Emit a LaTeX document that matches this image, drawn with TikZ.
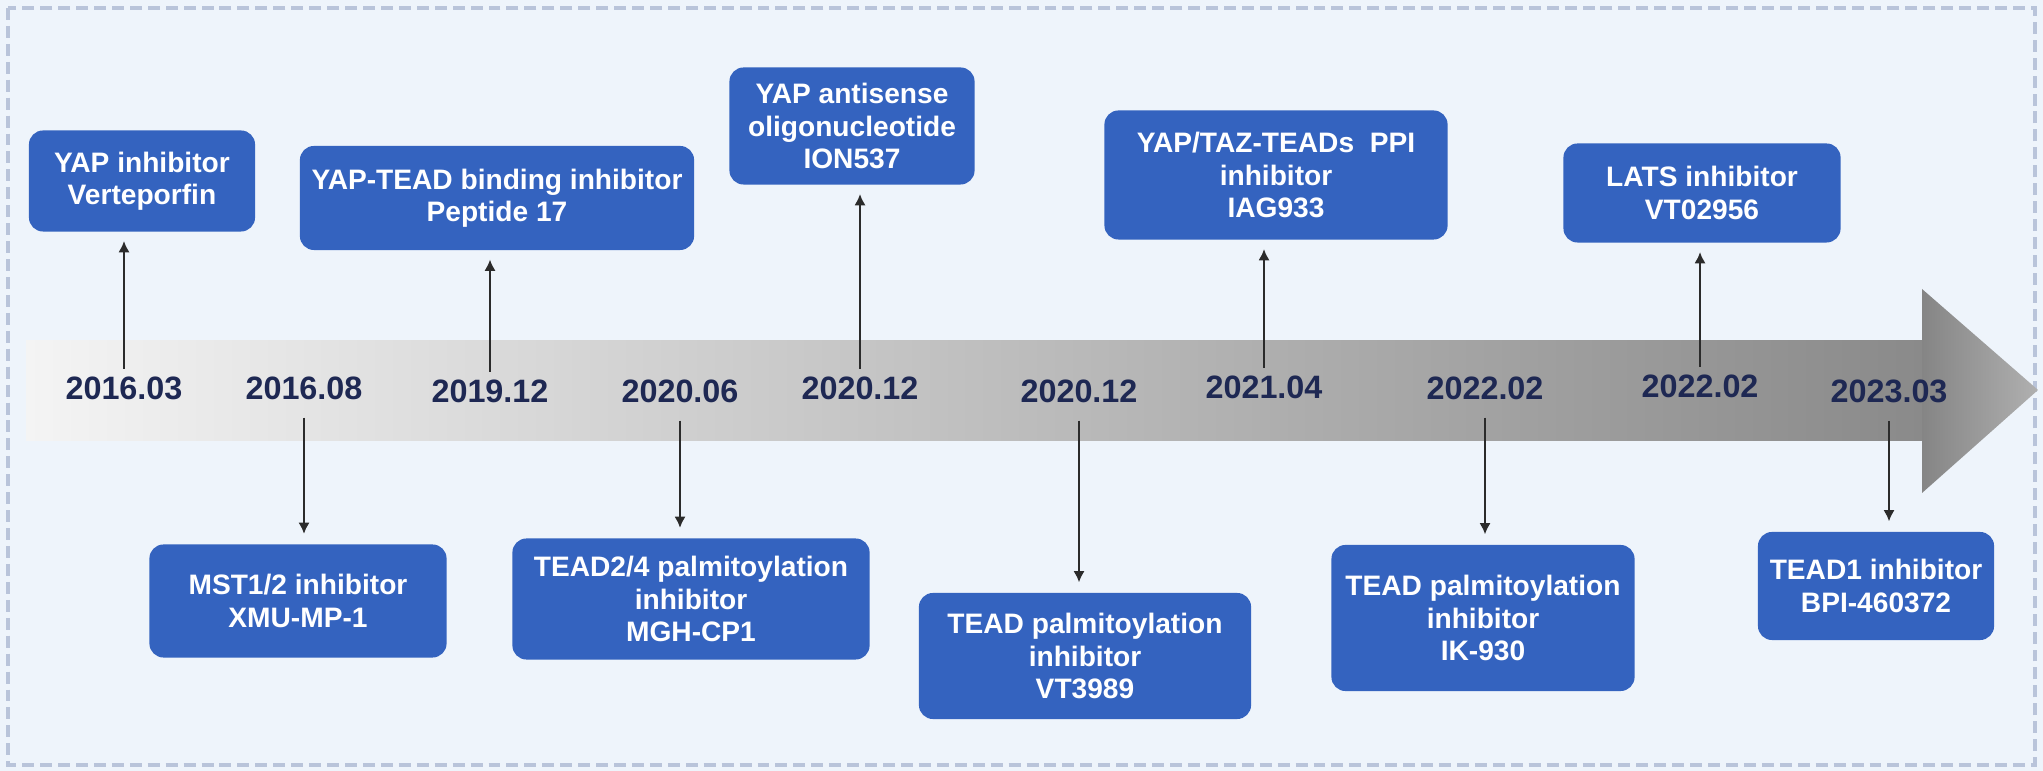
\documentclass[tikz,border=0pt]{standalone}
\usepackage{fontspec}
\setmainfont{Liberation Sans}
\usetikzlibrary{arrows.meta,positioning}
\definecolor{bgblue}{HTML}{EEF4FB}
\definecolor{frameblue}{HTML}{B9C4DA}
\definecolor{boxblue}{HTML}{3463BF}
\definecolor{datenavy}{HTML}{1E2853}
\definecolor{stem}{HTML}{2B2B2B}
\definecolor{bandL}{HTML}{F4F4F4}
\definecolor{bandR}{HTML}{8A8A8A}
\definecolor{headL}{HTML}{858585}
\definecolor{headR}{HTML}{B0B0B0}
\tikzset{
  evt/.style={rectangle,rounded corners=4pt,fill=boxblue,text=white,align=center,
              font=\fontsize{8}{9.2}\selectfont\bfseries,inner sep=2pt},
  yr/.style={font=\fontsize{9.2}{11}\selectfont\bfseries,text=datenavy,inner sep=2pt},
  up/.style={-{Latex[length=3.2pt,width=3.2pt]},line width=0.7pt,draw=stem,shorten >=2.5pt},
  dn/.style={-{Latex[length=3.2pt,width=3.2pt]},line width=0.7pt,draw=stem,shorten <=3pt,shorten >=2.8pt},
  frm/.style={draw=frameblue,line width=0.9pt,dash pattern=on 3.4pt off 1.7pt},
}

\begin{document}
\begin{tikzpicture}[x=0.01cm,y=-0.01cm]
\useasboundingbox (0,0) rectangle (2043,771);
\fill[bgblue] (0,0) rectangle (2043,771);
\draw[frm] (8,8) rectangle (2035,765);
\shade[left color=bandL,right color=bandR] (26,341) rectangle (1922,441);
\shade[left color=headL,right color=headR] (1922,289) -- (2038,390) -- (1922,493) -- cycle;

\node[yr] (d1) at (124,388) {2016.03};
\node[yr] (d2) at (304,388) {2016.08};
\node[yr] (d3) at (490,391) {2019.12};
\node[yr] (d4) at (680,391) {2020.06};
\node[yr] (d5) at (860,388) {2020.12};
\node[yr] (d6) at (1079,391) {2020.12};
\node[yr] (d7) at (1264,387) {2021.04};
\node[yr] (d8) at (1485,388) {2022.02};
\node[yr] (d9) at (1700,386) {2022.02};
\node[yr] (d10) at (1889,391) {2023.03};

\node[evt,minimum width=2.26cm,minimum height=1.01cm] (vert) at (142,181) {YAP inhibitor\\Verteporfin};
\node[evt,minimum width=3.94cm,minimum height=1.04cm] (pep) at (497,198) {YAP-TEAD binding inhibitor\\Peptide 17};
\node[evt,minimum width=2.45cm,minimum height=1.17cm] (ion) at (852,126) {YAP antisense\\oligonucleotide\\ION537};
\node[evt,minimum width=3.43cm,minimum height=1.29cm] (iag) at (1276,175) {YAP/TAZ-TEADs\ \ PPI\\inhibitor\\IAG933};
\node[evt,minimum width=2.77cm,minimum height=0.99cm] (vtb) at (1702,193) {LATS inhibitor\\VT02956};
\node[evt,minimum width=2.97cm,minimum height=1.13cm] (xmu) at (298,601) {MST1/2 inhibitor\\XMU-MP-1};
\node[evt,minimum width=3.57cm,minimum height=1.21cm] (mgh) at (691,599) {TEAD2/4 palmitoylation\\inhibitor\\MGH-CP1};
\node[evt,minimum width=3.32cm,minimum height=1.26cm] (vtc) at (1085,656) {TEAD palmitoylation\\inhibitor\\VT3989};
\node[evt,minimum width=3.03cm,minimum height=1.46cm] (ik) at (1483,618) {TEAD palmitoylation\\inhibitor\\IK-930};
\node[evt,minimum width=2.36cm,minimum height=1.08cm] (bpi) at (1876,586) {TEAD1 inhibitor\\BPI-460372};

\draw[up](d1)--(d1|-vert.south);\draw[up](d3)--(d3|-pep.south);\draw[up](d5)--(d5|-ion.south);
\draw[up](d7)--(d7|-iag.south);\draw[up](d9)--(d9|-vtb.south);
\draw[dn](d2)--(d2|-xmu.north);\draw[dn](d4)--(d4|-mgh.north);\draw[dn](d6)--(d6|-vtc.north);
\draw[dn](d8)--(d8|-ik.north);\draw[dn](d10)--(d10|-bpi.north);
\end{tikzpicture}
\end{document}
